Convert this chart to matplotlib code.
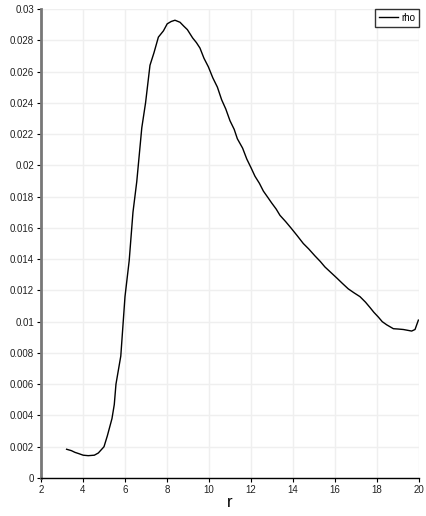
import numpy as np
import matplotlib.pyplot as plt
from matplotlib.ticker import FuncFormatter

plt.rcParams['font.family'] = ['Liberation Sans', 'DejaVu Sans']

# values
r = [3.22, 3.45, 3.62, 3.8, 4.01, 4.25, 4.54, 4.73, 5.0, 5.16, 5.38, 5.49,
     5.57, 5.8, 6.0, 6.2, 6.38, 6.56, 6.8, 6.98, 7.19, 7.38, 7.59, 7.83,
     8.01, 8.2, 8.38, 8.62, 8.8, 8.97, 9.22, 9.4, 9.57, 9.76, 9.97, 10.18,
     10.4, 10.6, 10.8, 11.0, 11.2, 11.35, 11.6, 11.8, 12.0, 12.19, 12.4,
     12.59, 12.8, 12.98, 13.2, 13.38, 13.65, 13.9, 14.2, 14.49, 14.75,
     15.05, 15.3, 15.52, 15.8, 16.08, 16.35, 16.63, 16.9, 17.19, 17.45,
     17.67, 17.85, 18.06, 18.25, 18.46, 18.78, 19.0, 19.25, 19.45, 19.65,
     19.81, 19.97]
rho = [0.00184, 0.00175, 0.00164, 0.00156, 0.00146, 0.00143, 0.00146,
       0.00160, 0.00200, 0.00270, 0.00380, 0.00470, 0.00600, 0.00780,
       0.01160, 0.01390, 0.01700, 0.01895, 0.02240, 0.02400, 0.02640,
       0.02720, 0.02820, 0.02860, 0.02905, 0.02920, 0.02928, 0.02915,
       0.02890, 0.02868, 0.02815, 0.02785, 0.02750, 0.02685, 0.02630,
       0.02560, 0.02500, 0.02420, 0.02360, 0.02285, 0.02230, 0.02170,
       0.02110, 0.02040, 0.01985, 0.01930, 0.01885, 0.01835, 0.01795,
       0.01760, 0.01720, 0.01680, 0.01640, 0.01600, 0.01550, 0.01500,
       0.01465, 0.01420, 0.01385, 0.01350, 0.01315, 0.01280, 0.01245,
       0.01210, 0.01185, 0.01160, 0.01125, 0.01090, 0.01060, 0.01030,
       0.01000, 0.00980, 0.00955, 0.00953, 0.00950, 0.00945, 0.00940,
       0.00950, 0.01010]

fig = plt.figure(figsize=(4.26, 5.16), dpi=100)
ax = fig.add_axes([0.0962, 0.0736, 0.8874, 0.909])

ax.plot(r, rho, color='black', lw=1.0, label='rho')

ax.set_xlim(2, 20)
ax.set_ylim(0, 0.03)
ax.set_xticks(np.arange(2, 21, 2))
ax.set_yticks(np.arange(0, 0.0301, 0.002))
ax.yaxis.set_major_formatter(FuncFormatter(lambda v, p: '%g' % round(v, 4)))
ax.grid(True, color='#efefef', lw=1.0)
ax.set_axisbelow(True)

for s in ['top', 'right']:
    ax.spines[s].set_visible(False)
ax.spines['left'].set_color('#777777')
ax.spines['left'].set_linewidth(2.0)
ax.spines['bottom'].set_color('black')
ax.spines['bottom'].set_linewidth(1.0)
ax.tick_params(axis='both', labelsize=7, length=3, width=0.8, pad=2,
               labelcolor='#222222')

ax.set_xlabel('r', fontsize=12, labelpad=0)

leg = ax.legend(loc='upper right', fontsize=7, frameon=True, fancybox=False,
                handlelength=2.0, borderpad=0.4, handletextpad=0.3,
                borderaxespad=0.0)
leg.get_frame().set_edgecolor('black')
leg.get_frame().set_linewidth(1.0)

fig.savefig('out.png', dpi=100)
